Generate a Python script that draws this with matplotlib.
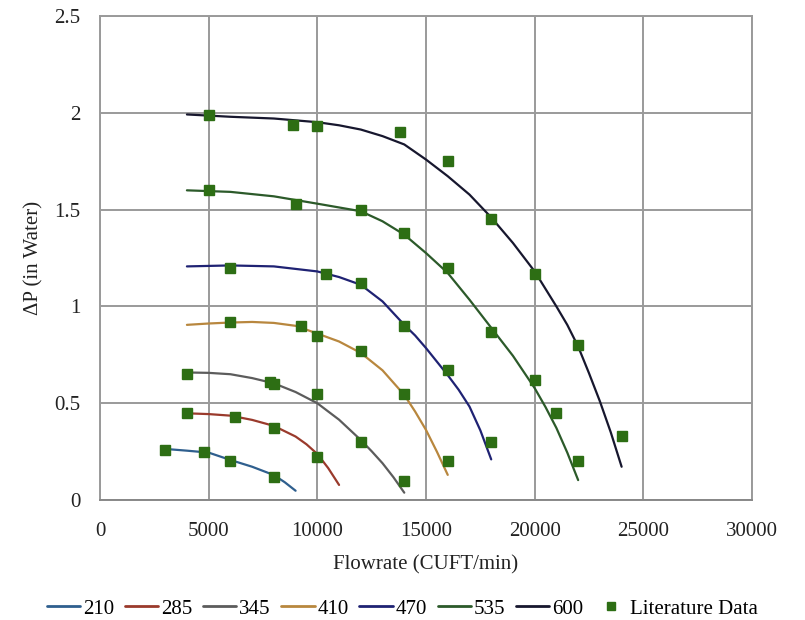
import matplotlib.pyplot as plt
import numpy as np

# fitted fan curves (flowrate in CUFT/min, dP in inches of water)
x_210 = [3000, 4000, 5000, 6000, 7000, 8000, 8500, 9000]
y_210 = [0.264, 0.255, 0.245, 0.207, 0.172, 0.129, 0.092, 0.048]

x_285 = [4000, 5000, 6000, 7000, 8000, 9000, 9500, 10000, 10500, 11000]
y_285 = [0.448, 0.444, 0.436, 0.414, 0.383, 0.328, 0.288, 0.238, 0.165, 0.078]

x_345 = [4000, 5000, 6000, 7000, 8000, 9000, 10000, 11000, 12000, 12500, 13000, 13500, 14000]
y_345 = [0.659, 0.657, 0.650, 0.630, 0.603, 0.558, 0.500, 0.415, 0.310, 0.252, 0.190, 0.118, 0.038]

x_410 = [4000, 5000, 6000, 7000, 8000, 9000, 10000, 11000, 12000, 13000, 14000, 14500, 15000, 15500, 16000]
y_410 = [0.905, 0.912, 0.917, 0.920, 0.915, 0.900, 0.860, 0.819, 0.760, 0.670, 0.543, 0.457, 0.362, 0.250, 0.130]

x_470 = [4000, 6000, 8000, 10000, 11000, 12000, 13000, 14000, 14500, 15000, 15500,
         16000, 16500, 17000, 17500, 18000]
y_470 = [1.207, 1.212, 1.207, 1.181, 1.152, 1.112, 1.026, 0.905, 0.850, 0.785, 0.715,
         0.645, 0.570, 0.483, 0.360, 0.210]

x_535 = [4000, 6000, 8000, 10000, 12000, 13000, 14000, 15000, 16000, 17000, 18000,
         19000, 20000, 20500, 21000, 21500, 22000]
y_535 = [1.600, 1.592, 1.569, 1.531, 1.492, 1.440, 1.371, 1.276, 1.173, 1.035, 0.890,
         0.745, 0.578, 0.480, 0.372, 0.245, 0.103]

x_600 = [4000, 6000, 8000, 10000, 11000, 12000, 13000, 14000, 15000, 16000, 17000, 18000,
         19000, 20000, 21000, 21500, 22000, 22500, 23000, 23500, 24000]
y_600 = [1.992, 1.980, 1.971, 1.952, 1.936, 1.914, 1.880, 1.837, 1.759, 1.673, 1.578, 1.460,
         1.328, 1.181, 1.000, 0.905, 0.793, 0.655, 0.510, 0.350, 0.172]

# literature data points
lit_x = [5000, 8900, 10000, 13800, 16000, 18000, 20000, 22000, 24000,
         5000, 9000, 12000, 14000, 16000, 18000, 20000, 21000, 22000,
         6000, 10400, 12000, 14000, 16000, 18000,
         6000, 9250, 10000, 12000, 14000, 16000,
         4000, 7800, 8000, 10000, 12000, 14000,
         4000, 6200, 8000, 10000,
         3000, 4800, 6000, 8000]
lit_y = [1.99, 1.94, 1.93, 1.90, 1.75, 1.45, 1.17, 0.80, 0.33,
         1.60, 1.53, 1.50, 1.38, 1.20, 0.87, 0.62, 0.45, 0.20,
         1.20, 1.17, 1.12, 0.90, 0.67, 0.30,
         0.92, 0.90, 0.85, 0.77, 0.55, 0.20,
         0.65, 0.61, 0.60, 0.55, 0.30, 0.10,
         0.45, 0.43, 0.37, 0.22,
         0.26, 0.25, 0.20, 0.12]

curves = [
    ('210', x_210, y_210, '#2f5f8e'),
    ('285', x_285, y_285, '#9a3a2c'),
    ('345', x_345, y_345, '#5c5c5c'),
    ('410', x_410, y_410, '#b8873e'),
    ('470', x_470, y_470, '#1f2273'),
    ('535', x_535, y_535, '#2c5a2a'),
    ('600', x_600, y_600, '#17172e'),
]

plt.rcParams['font.family'] = ['Liberation Serif', 'DejaVu Serif']

fig = plt.figure(figsize=(8.05, 6.2), dpi=100)
ax = fig.add_axes([0.1242, 0.1935, 0.81, 0.7805])

for name, xs, ys, col in curves:
    ax.plot(xs, ys, color=col, linewidth=1.6, label=name, zorder=3,
            solid_joinstyle='round', solid_capstyle='round')

ax.plot(lit_x, lit_y, linestyle='none', marker='s', markersize=6.5,
        color='#2d6e14', markeredgecolor='#2d6e14', label='Literature Data', zorder=4)

ax.set_xlim(0, 30000)
ax.set_ylim(0, 2.5)
ax.set_xticks(np.arange(0, 30001, 5000))
ax.set_yticks([0, 0.5, 1, 1.5, 2, 2.5])
ax.set_yticklabels(['0', '0.5', '1', '1.5', '2', '2.5'])
ax.grid(True, color='#9a9a9a', linewidth=1.4)
ax.set_axisbelow(True)
for s in ax.spines.values():
    s.set_color('#9a9a9a')
    s.set_linewidth(1.4)
ax.spines['bottom'].set_color('#888888')
ax.tick_params(length=0, labelsize=15, colors='#222222', pad=14)
ax.tick_params(axis='x', pad=16)

ax.set_xlabel('Flowrate (CUFT/min)', fontsize=15, color='#222222', labelpad=10)
ax.set_ylabel('ΔP (in Water)', fontsize=15, color='#222222', labelpad=8)

leg = fig.legend(loc='lower center', bbox_to_anchor=(0.5, -0.018), ncol=8, frameon=False,
                 fontsize=15, handlelength=1.6, handletextpad=0.15, columnspacing=0.5,
                 borderaxespad=0.2, markerscale=0.9)
for h in leg.legend_handles[:-1]:
    h.set_linewidth(2.0)

plt.savefig('out.png', dpi=100)
